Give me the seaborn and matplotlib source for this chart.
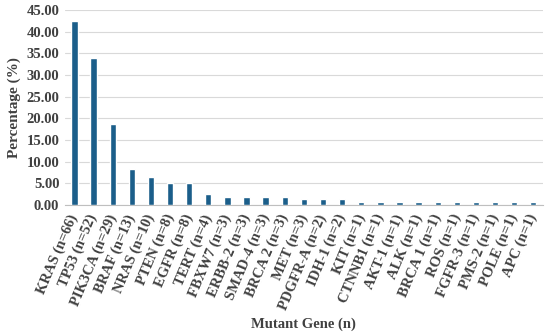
import matplotlib
matplotlib.use("Agg")
import matplotlib.pyplot as plt
import seaborn as sns
import pandas as pd

genes = ["KRAS (n=66)", "TP53 (n=52)", "PIK3CA (n=29)", "BRAF (n=13)", "NRAS (n=10)",
         "PTEN (n=8)", "EGFR (n=8)", "TERT (n=4)", "FBXW7 (n=3)", "ERBB-2 (n=3)",
         "SMAD-4 (n=3)", "BRCA 2 (n=3)", "MET (n=3)", "PDGFR-A (n=2)", "IDH-1 (n=2)",
         "KIT (n=1)", "CTNNB1 (n=1)", "AKT-1 (n=1)", "ALK (n=1)", "BRCA 1 (n=1)",
         "ROS (n=1)", "FGFR-3 (n=1)", "PMS-2 (n=1)", "POLE (n=1)", "APC (n=1)"]
percent = [42.58, 33.90, 18.71, 8.39, 6.45, 5.16, 5.16, 2.58, 1.94, 1.94,
           1.94, 1.94, 1.29, 1.29, 1.29, 0.65, 0.65, 0.65, 0.65, 0.65,
           0.65, 0.65, 0.65, 0.65, 0.65]
yticks = [0, 5, 10, 15, 20, 25, 30, 35, 40, 45]

df = pd.DataFrame({"gene": genes, "pct": percent})

sns.set_theme(style="white")
plt.rcParams["font.family"] = ["Liberation Serif", "DejaVu Serif"]

fig = plt.figure(figsize=(5.5, 3.34), dpi=100)
ax = fig.add_axes([0.118, 0.386, 0.869, 0.584])
sns.barplot(data=df, x="gene", y="pct", color="#1b5e8a", saturation=1, width=0.33, ax=ax, zorder=3)

ax.set_ylim(0, 45)
ax.set_yticks(yticks)
ax.set_yticklabels([f"{v:.2f}" for v in yticks], fontsize=10.5, fontweight="bold", color="#404040")
ax.yaxis.grid(True, color="#d9d9d9", linewidth=0.8, zorder=0)
ax.set_axisbelow(True)
for s in ["top", "right", "left"]:
    ax.spines[s].set_visible(False)
ax.spines["bottom"].set_color("#bfbfbf")
ax.spines["bottom"].set_linewidth(0.8)
ax.tick_params(axis="y", length=0, pad=4)
ax.tick_params(axis="x", length=0, pad=7)
ax.set_xlim(-0.5, len(genes) - 0.5)
ax.set_xticks(range(len(genes)))
ax.set_xticklabels(genes, rotation=67, ha="right", va="center", rotation_mode="anchor",
                   fontsize=10.5, fontweight="bold", color="#404040")
ax.set_xlabel("Mutant Gene (n)", fontsize=10.5, fontweight="bold", color="#404040")
ax.xaxis.set_label_coords(0.5, -0.578)
ax.set_ylabel("Percentage (%)", fontsize=11, fontweight="bold", color="#404040", labelpad=4)

fig.savefig("out.png", dpi=100)
